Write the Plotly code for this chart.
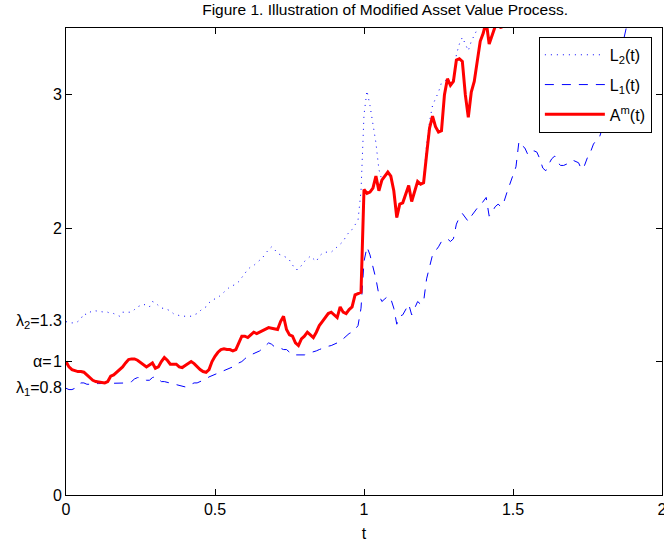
import numpy as np
import plotly.graph_objects as go

# time grid step
DT = 0.01

# lower barrier L1(t)
L1 = [
    0.80, 0.79, 0.79, 0.80, 0.82, 0.84, 0.84, 0.83, 0.83, 0.835,
    0.835, 0.835, 0.835, 0.835, 0.835, 0.835, 0.835, 0.835, 0.835, 0.835,
    0.835, 0.84, 0.85, 0.87, 0.88, 0.88, 0.87, 0.86, 0.86, 0.88,
    0.887, 0.87, 0.85, 0.85, 0.845, 0.84, 0.835, 0.83, 0.825, 0.815,
    0.81, 0.82, 0.83, 0.84, 0.84, 0.85, 0.855, 0.87, 0.885, 0.895,
    0.90, 0.91, 0.92, 0.93, 0.94, 0.95, 0.96, 0.97, 0.99, 1.00,
    1.02, 1.04, 1.05, 1.06, 1.07, 1.08, 1.10, 1.12, 1.14, 1.13,
    1.11, 1.10, 1.10, 1.09, 1.09, 1.07, 1.05, 1.05, 1.05, 1.05,
    1.05, 1.06, 1.065, 1.07, 1.08, 1.09, 1.10, 1.11, 1.115, 1.12,
    1.13, 1.14, 1.15, 1.17, 1.19, 1.21, 1.22, 1.24, 1.27, 1.40,
    1.75, 1.86, 1.80, 1.71, 1.62, 1.50, 1.45, 1.47, 1.49, 1.47,
    1.40, 1.28, 1.34, 1.35, 1.39, 1.43, 1.35, 1.40, 1.45, 1.43,
    1.45, 1.62, 1.72, 1.80, 1.83, 1.86, 1.90, 1.91, 1.92, 1.90,
    1.92, 2.03, 2.08, 2.11, 2.08, 2.05, 2.09, 2.12, 2.15, 2.17,
    2.20, 2.23, 2.09, 2.12, 2.16, 2.18, 2.16, 2.20, 2.27, 2.33,
    2.40, 2.46, 2.65, 2.62, 2.60, 2.55, 2.56, 2.58, 2.57, 2.52,
    2.45, 2.43, 2.48, 2.52, 2.54, 2.49, 2.47, 2.47, 2.48, 2.50,
    2.51, 2.50, 2.49, 2.44, 2.47, 2.53, 2.57, 2.63, 2.66, 2.68,
    2.75, 2.84, 2.93, 3.02, 3.11, 3.20, 3.30, 3.40, 3.50, 3.58,
]

# upper barrier L2(t)
L2 = [
    1.30, 1.29, 1.29, 1.29, 1.30, 1.32, 1.36, 1.35, 1.37, 1.38,
    1.38, 1.375, 1.37, 1.37, 1.37, 1.36, 1.36, 1.35, 1.34, 1.37,
    1.37, 1.37, 1.37, 1.39, 1.41, 1.42, 1.43, 1.42, 1.41, 1.45,
    1.44, 1.42, 1.40, 1.40, 1.39, 1.38, 1.36, 1.35, 1.345, 1.34,
    1.34, 1.34, 1.34, 1.35, 1.36, 1.38, 1.40, 1.41, 1.44, 1.46,
    1.47, 1.48, 1.50, 1.52, 1.54, 1.56, 1.57, 1.58, 1.60, 1.63,
    1.66, 1.69, 1.71, 1.72, 1.74, 1.76, 1.78, 1.81, 1.84, 1.86,
    1.84, 1.81, 1.80, 1.79, 1.78, 1.76, 1.72, 1.69, 1.69, 1.72,
    1.75, 1.77, 1.79, 1.77, 1.75, 1.79, 1.81, 1.82, 1.82, 1.82,
    1.84, 1.86, 1.88, 1.90, 1.94, 1.97, 1.99, 2.03, 2.06, 2.28,
    2.85, 3.03, 2.92, 2.78, 2.64, 2.44, 2.36, 2.39, 2.42, 2.39,
    2.28, 2.08, 2.18, 2.19, 2.26, 2.32, 2.20, 2.28, 2.35, 2.33,
    2.36, 2.63, 2.80, 2.92, 2.97, 3.02, 3.09, 3.10, 3.12, 3.09,
    3.12, 3.30, 3.38, 3.43, 3.38, 3.33, 3.40, 3.45, 3.49, 3.53,
    3.58, 3.62, 3.40, 3.45, 3.51, 3.54, 3.51, 3.58, 3.69,
]

# modified asset value A^m(t)
AM = [
    1.00, 0.96, 0.94, 0.93, 0.925, 0.925, 0.92, 0.90, 0.88, 0.86,
    0.85, 0.845, 0.84, 0.84, 0.85, 0.89, 0.90, 0.92, 0.94, 0.96,
    0.99, 1.015, 1.02, 1.02, 1.01, 0.995, 0.98, 0.96, 0.975, 0.99,
    0.95, 0.96, 1.00, 1.03, 1.01, 0.98, 0.98, 0.98, 0.96, 0.955,
    0.97, 0.985, 1.00, 0.985, 0.96, 0.94, 0.925, 0.92, 0.94, 1.00,
    1.04, 1.07, 1.09, 1.095, 1.09, 1.09, 1.08, 1.09, 1.14, 1.19,
    1.19, 1.18, 1.20, 1.22, 1.21, 1.22, 1.23, 1.24, 1.255, 1.25,
    1.245, 1.24, 1.30, 1.34, 1.24, 1.20, 1.19, 1.14, 1.12, 1.17,
    1.19, 1.22, 1.20, 1.18, 1.22, 1.27, 1.30, 1.33, 1.36, 1.37,
    1.35, 1.33, 1.41, 1.37, 1.36, 1.39, 1.41, 1.50, 1.51, 1.52,
    2.29, 2.26, 2.27, 2.30, 2.39, 2.28, 2.36, 2.39, 2.42, 2.39,
    2.28, 2.08, 2.18, 2.19, 2.26, 2.32, 2.20, 2.28, 2.35, 2.33,
    2.34, 2.55, 2.75, 2.84, 2.76, 2.72, 2.73, 3.00, 3.12, 3.07,
    3.10, 3.26, 3.27, 3.25, 3.00, 2.83, 3.02, 3.10, 3.25, 3.40,
    3.46, 3.55, 3.38, 3.44, 3.51, 3.53, 3.50, 3.58, 3.68,
]

X_TICKS = [0, 0.5, 1, 1.5, 2]
Y_TICKS = [0, 1, 2, 3]
Y_MARKS = [(1.3, "λ<sub>2</sub>=1.3", -2), (1.0, "α=", -12), (0.8, "λ<sub>1</sub>=0.8", -2)]

FONT = "Liberation Sans, Arial, sans-serif"


def grid(values):
    return np.round(np.arange(len(values)) * DT, 2)


fig = go.Figure()
fig.add_trace(go.Scatter(
    x=grid(L2), y=L2, mode="lines", name="L<sub>2</sub>(t)", legendgroup="a",
    line=dict(color="#0000ff", width=1, dash="1px,5px"),
))
fig.add_trace(go.Scatter(
    x=grid(L1), y=L1, mode="lines", name="L<sub>1</sub>(t)", legendgroup="b",
    line=dict(color="#0000ff", width=1, dash="9px,8px"),
))
fig.add_trace(go.Scatter(
    x=grid(AM), y=AM, mode="lines", name="A<sup>m</sup>(t)", legendgroup="c",
    line=dict(color="#ff0000", width=3),
))

for yv, txt, shift in Y_MARKS:
    fig.add_annotation(
        x=0, xref="paper", y=yv, yref="y", text=txt, showarrow=False,
        xanchor="right", yanchor="middle", xshift=shift,
        font=dict(family=FONT, size=16, color="black"),
    )

axis_style = dict(
    showline=True, linecolor="black", linewidth=1, mirror="allticks",
    ticks="inside", ticklen=6, tickcolor="black", showgrid=False, zeroline=False,
    tickfont=dict(family=FONT, size=16, color="black"), automargin=False,
)

fig.update_xaxes(range=[0, 2], tickvals=X_TICKS, ticktext=[f"{v:g}" for v in X_TICKS],
                 ticklabeloverflow="allow",
                 title=dict(text="t", font=dict(family=FONT, size=16, color="black"), standoff=10),
                 **axis_style)
fig.update_yaxes(range=[0, 3.5], tickvals=Y_TICKS, ticktext=[str(v) for v in Y_TICKS],
                 **axis_style)

fig.update_layout(
    width=664, height=546,
    margin=dict(l=66, r=2, t=28, b=51),
    paper_bgcolor="white", plot_bgcolor="white",
    font=dict(family=FONT, size=16, color="black"),
    title=dict(text="Figure 1. Illustration of Modified Asset Value Process.",
               x=0.58, xref="container", xanchor="center", y=0.982, yanchor="middle",
               font=dict(family=FONT, size=15.5, color="black")),
    legend=dict(x=0.983, y=0.981, xanchor="right", yanchor="top",
                bgcolor="white", bordercolor="black", borderwidth=1,
                font=dict(family=FONT, size=16, color="black"),
                itemwidth=60, tracegroupgap=6, traceorder="grouped"),
    showlegend=True,
)

fig.write_html("out.html")
